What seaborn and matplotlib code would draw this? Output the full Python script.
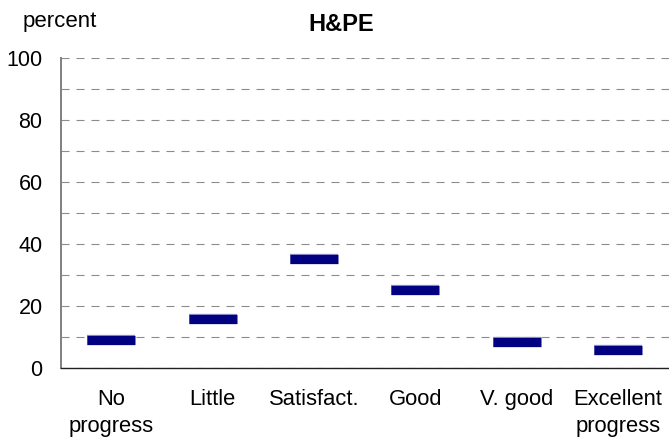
import matplotlib
matplotlib.use("Agg")
import matplotlib.pyplot as plt
import seaborn as sns

categories = ["No\nprogress", "Little", "Satisfact.", "Good", "V. good", "Excellent\nprogress"]
values = [9.0, 16.0, 35.4, 25.2, 8.5, 5.8]
y_major = [0, 20, 40, 60, 80, 100]
y_minor = [10, 30, 50, 70, 90]

sns.set_style("white")
plt.rcParams["font.family"] = ["Liberation Sans", "DejaVu Sans"]
plt.rcParams["text.color"] = "black"
plt.rcParams["xtick.color"] = "black"
plt.rcParams["ytick.color"] = "black"

fig = plt.figure(figsize=(6.69, 4.41), dpi=100)
ax = fig.add_axes([0.0907, 0.1649, 0.9088, 0.7029])

# light rim under the navy dashes
sns.scatterplot(x=categories, y=values, marker="_", s=35.2 ** 2, linewidth=7.4,
                color="#9090d0", ax=ax, zorder=3)
sns.scatterplot(x=categories, y=values, marker="_", s=34.0 ** 2, linewidth=6.6,
                color="#000080", ax=ax, zorder=4)

ax.set_xlim(-0.5, len(categories) - 0.5)
ax.set_ylim(0, 100)

ax.set_xticks(range(len(categories)))
ax.set_xticklabels(categories, fontsize=15.8)
for lab in ax.get_xticklabels():
    lab.set_linespacing(1.35)
ax.set_xticks([i - 0.5 for i in range(len(categories) + 1)], minor=True)
ax.tick_params(axis="x", which="major", length=0, pad=15)
ax.tick_params(axis="x", which="minor", length=7, width=1, color="#333333", direction="out")

ax.set_yticks(y_major)
ax.set_yticks(y_minor, minor=True)
ax.tick_params(axis="y", which="major", length=7, width=1, color="#333333",
               direction="out", labelsize=15.5, pad=6)
ax.tick_params(axis="y", which="minor", length=0)
ax.grid(axis="y", which="both", color="#8c8c8c", linewidth=0.8, linestyle=(0, (7.2, 6.3)))
ax.grid(axis="x", visible=False)
ax.set_axisbelow(True)

for s in ["top", "right"]:
    ax.spines[s].set_visible(False)
ax.spines["left"].set_color("#808080")
ax.spines["left"].set_linewidth(1.4)
ax.spines["bottom"].set_color("#222222")
ax.spines["bottom"].set_linewidth(1.0)

fig.text(23 / 669, 1 - 27 / 441, "percent", fontsize=16, ha="left", va="baseline")
fig.text(341 / 669, 1 - 31 / 441, "H&PE", fontsize=17, fontweight="bold",
         ha="center", va="baseline")

fig.savefig("out.png", dpi=100)
